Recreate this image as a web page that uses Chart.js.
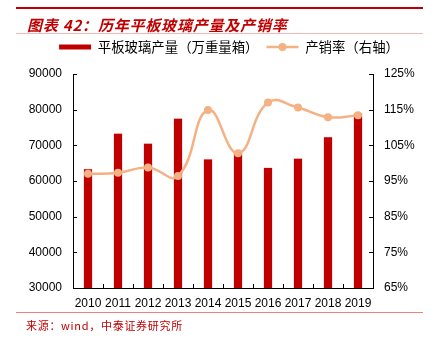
<!DOCTYPE html>
<html><head><meta charset="utf-8">
<script src="https://cdn.jsdelivr.net/npm/chart.js@4"></script>
<style>
html,body{margin:0;padding:0;background:#fff;}
#wrap{position:relative;width:435px;height:344px;overflow:hidden;}
#c{position:absolute;left:0;top:0;}
.ln{position:absolute;left:16px;width:407px;}
#title{position:absolute;left:27px;top:14px;font:italic bold 15px "Noto Sans CJK SC",sans-serif;color:#C00000;white-space:nowrap;letter-spacing:0.8px;}
#src{position:absolute;left:26px;top:317px;font:11px "Noto Sans CJK SC",sans-serif;color:#C00000;white-space:nowrap;letter-spacing:0.7px;}
</style></head>
<body><div id="wrap">
<canvas id="c" width="435" height="344"></canvas>
<div class="ln" style="top:7px;height:2px;background:#C00000"></div>
<div id="title">图表 42：历年平板玻璃产量及产销率</div>
<div class="ln" style="top:33px;height:1px;background:#F2B8B8"></div>
<div class="ln" style="top:312px;height:1px;background:#F08080"></div>
<div id="src">来源：wind，中泰证券研究所</div>
</div>
<script>
const years = ['2010','2011','2012','2013','2014','2015','2016','2017','2018','2019'];
const output = [63400, 73400, 70600, 77600, 66200, 68100, 63800, 66400, 72400, 79000];
const ratio = [97.0, 97.3, 98.8, 96.4, 114.9, 102.8, 117.0, 115.6, 112.9, 113.4];
const leftTicks = [30000, 40000, 50000, 60000, 70000, 80000, 90000];
const rightTicks = [65, 75, 85, 95, 105, 115, 125];

const tickFont = {family:'"Liberation Sans", Arial, sans-serif', size:12};
const LINE_COLOR = '#F4B183';

const legendSpacer = {
  id:'legendSpacer',
  beforeUpdate(chart){
    const L = chart.legend;
    if(L && !L._spaced){
      const orig = L.fit;
      L.fit = function(){ orig.call(this); this.height += 10.3; };
      L._spaced = true;
    }
  }
};

const inwardTicks = {
  id:'inwardTicks',
  afterDraw(chart){
    const ctx = chart.ctx, a = chart.chartArea;
    ctx.save();
    ctx.strokeStyle = '#000'; ctx.lineWidth = 1;
    ctx.beginPath();
    const yl = chart.scales.y, yr = chart.scales.y1, x = chart.scales.x;
    leftTicks.forEach(v=>{const p=Math.round(yl.getPixelForValue(v))+0.5; ctx.moveTo(a.left,p); ctx.lineTo(a.left+4,p);});
    rightTicks.forEach(v=>{const p=Math.round(yr.getPixelForValue(v))+0.5; ctx.moveTo(a.right,p); ctx.lineTo(a.right-4,p);});
    const half = (x.getPixelForValue(1)-x.getPixelForValue(0))/2;
    for(let i=0;i<=years.length;i++){
      const p = Math.round(x.getPixelForValue(i)-half)+0.5;
      ctx.moveTo(p,a.bottom); ctx.lineTo(p,a.bottom-4);
    }
    ctx.stroke();
    const hb = chart.legend && chart.legend.legendHitBoxes;
    if(hb && hb[1]){
      const b = hb[1];
      const cy = b.top + b.height/2;
      ctx.strokeStyle = LINE_COLOR; ctx.lineWidth = 2.5;
      ctx.beginPath(); ctx.moveTo(b.left, cy); ctx.lineTo(b.left+32, cy); ctx.stroke();
      ctx.fillStyle = LINE_COLOR;
      ctx.beginPath(); ctx.arc(b.left+16, cy, 4, 0, Math.PI*2); ctx.fill();
    }
    ctx.restore();
  }
};

new Chart(document.getElementById('c'), {
  data:{
    labels: years,
    datasets:[
      {type:'line', label:'产销率（右轴）', data:ratio, yAxisID:'y1', borderColor:LINE_COLOR, backgroundColor:LINE_COLOR,
       borderWidth:2.5, pointRadius:4, pointBackgroundColor:LINE_COLOR, pointBorderWidth:0, tension:0.45, order:0},
      {type:'bar', label:'平板玻璃产量（万重量箱）', data:output, yAxisID:'y', backgroundColor:'#C00000',
       borderColor:'#E88080', borderWidth:{left:0.5,right:0.5,top:0.5,bottom:0}, barPercentage:0.3, categoryPercentage:1, order:1}
    ]
  },
  options:{
    responsive:false, animation:false,
    layout:{padding:{left:23,right:0,top:32.3,bottom:34}},
    plugins:{
      legend:{
        position:'top',
        labels:{
          font:{family:'"Noto Sans CJK SC", sans-serif', size:13.4}, color:'#222', padding:8,
          generateLabels(chart){
            return [
              {text:'平板玻璃产量（万重量箱）', fillStyle:'#C00000', strokeStyle:'#C00000', lineWidth:0, datasetIndex:1},
              {text:'产销率（右轴）', fillStyle:'rgba(0,0,0,0)', strokeStyle:'rgba(0,0,0,0)', lineWidth:0, datasetIndex:0}
            ];
          },
          boxWidth:32, boxHeight:5
        }
      },
      tooltip:{enabled:false}
    },
    scales:{
      x:{
        grid:{display:false, drawOnChartArea:false, drawTicks:false},
        border:{display:true,color:'#000',width:1},
        ticks:{font:tickFont,color:'#000',padding:8, maxRotation:0, autoSkip:false},
        afterFit(s){s.height=22;}
      },
      y:{
        position:'left', min:30000, max:90000,
        afterBuildTicks(s){s.ticks = leftTicks.map(v=>({value:v}));},
        grid:{display:false, drawTicks:false},
        border:{display:true,color:'#000',width:1},
        ticks:{font:tickFont,color:'#000',padding:11, callback:v=>String(v)},
        afterFit(s){s.width=50;}
      },
      y1:{
        position:'right', min:65, max:125,
        afterBuildTicks(s){s.ticks = rightTicks.map(v=>({value:v}));},
        grid:{display:false, drawTicks:false},
        border:{display:true,color:'#000',width:1},
        ticks:{font:tickFont,color:'#000',padding:11, callback:v=>v+'%'},
        afterFit(s){s.width=62;}
      }
    }
  },
  plugins:[legendSpacer, inwardTicks]
});
</script>
</body></html>
